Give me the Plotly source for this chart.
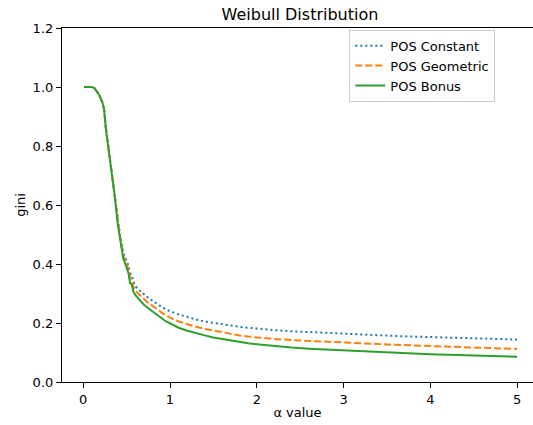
import plotly.graph_objects as go

alpha = [0.01, 0.05, 0.10, 0.13, 0.16, 0.18, 0.20, 0.22, 0.24, 0.25,
         0.26, 0.28, 0.30, 0.32, 0.34, 0.36, 0.38, 0.40, 0.42, 0.44,
         0.46, 0.48, 0.50, 0.52, 0.54, 0.56, 0.58, 0.60, 0.65, 0.70,
         0.75, 0.80, 0.85, 0.90, 0.95, 1.00, 1.1, 1.2, 1.3, 1.4,
         1.5, 1.6, 1.7, 1.8, 1.9, 2.0, 2.2, 2.4, 2.6, 2.8,
         3.0, 3.2, 3.4, 3.6, 3.8, 4.0, 4.2, 4.4, 4.6, 4.8,
         5.0]

pos_constant = [1.000, 1.000, 1.000, 0.996, 0.985, 0.975, 0.962, 0.948, 0.925, 0.882,
                0.862, 0.818, 0.778, 0.738, 0.685, 0.640, 0.588, 0.540, 0.505, 0.470,
                0.440, 0.425, 0.410, 0.395, 0.370, 0.360, 0.340, 0.325, 0.310, 0.297,
                0.285, 0.275, 0.264, 0.255, 0.247, 0.240, 0.229, 0.220, 0.212, 0.205,
                0.200, 0.195, 0.191, 0.187, 0.184, 0.181, 0.176, 0.172, 0.169, 0.167,
                0.163, 0.160, 0.158, 0.156, 0.154, 0.152, 0.150, 0.148, 0.147, 0.145,
                0.144]

pos_geometric = [1.000, 1.000, 1.000, 0.996, 0.985, 0.975, 0.962, 0.948, 0.925, 0.882,
                 0.862, 0.817, 0.777, 0.737, 0.683, 0.638, 0.585, 0.535, 0.500, 0.462,
                 0.428, 0.415, 0.398, 0.385, 0.355, 0.345, 0.322, 0.310, 0.295, 0.280,
                 0.268, 0.258, 0.246, 0.236, 0.226, 0.218, 0.205, 0.195, 0.187, 0.180,
                 0.174, 0.168, 0.163, 0.158, 0.154, 0.151, 0.146, 0.142, 0.139, 0.136,
                 0.133, 0.130, 0.128, 0.126, 0.124, 0.122, 0.120, 0.118, 0.116, 0.114,
                 0.112]

pos_bonus = [1.000, 1.000, 1.000, 0.996, 0.985, 0.975, 0.962, 0.948, 0.925, 0.880,
             0.860, 0.815, 0.775, 0.735, 0.680, 0.635, 0.580, 0.530, 0.495, 0.455,
             0.420, 0.405, 0.385, 0.370, 0.335, 0.330, 0.305, 0.295, 0.278, 0.262,
             0.250, 0.238, 0.226, 0.217, 0.206, 0.198, 0.184, 0.174, 0.165, 0.158,
             0.151, 0.146, 0.140, 0.135, 0.131, 0.128, 0.122, 0.117, 0.113, 0.110,
             0.107, 0.104, 0.101, 0.098, 0.096, 0.094, 0.092, 0.091, 0.089, 0.088,
             0.086]

x_ticks = [0, 1, 2, 3, 4, 5]
y_ticks = [0.0, 0.2, 0.4, 0.6, 0.8, 1.0, 1.2]

FONT = "DejaVu Sans"

fig = go.Figure()
fig.add_trace(go.Scatter(x=alpha, y=pos_constant, mode="lines", name="POS Constant",
                         line=dict(color="#1f77b4", width=2, dash="2px,3px")))
fig.add_trace(go.Scatter(x=alpha, y=pos_geometric, mode="lines", name="POS Geometric",
                         line=dict(color="#ff7f0e", width=2, dash="7px,3px")))
fig.add_trace(go.Scatter(x=alpha, y=pos_bonus, mode="lines", name="POS Bonus",
                         line=dict(color="#2ca02c", width=2)))

fig.update_layout(
    width=533, height=425,
    margin=dict(l=62, r=0, t=28, b=43, autoexpand=False),
    paper_bgcolor="white", plot_bgcolor="white",
    font=dict(family=FONT, size=13, color="black"),
    title=dict(text="Weibull Distribution", x=(300 / 533), xanchor="center",
               y=1 - 19.5 / 425, yanchor="bottom", yref="container",
               font=dict(family=FONT, size=16, color="black")),
    showlegend=True,
    legend=dict(x=0.610, y=0.995, xanchor="left", yanchor="top",
                bgcolor="rgba(255,255,255,0.8)", bordercolor="#cccccc", borderwidth=1,
                font=dict(family=FONT, size=13, color="black"),
                tracegroupgap=0),
    xaxis=dict(range=[-0.245, 5.184], tickvals=x_ticks, ticktext=[str(v) for v in x_ticks],
               showgrid=False, zeroline=False, showline=True, linecolor="black", linewidth=1.2,
               mirror=True, ticks="outside", ticklen=5, tickwidth=1, tickcolor="black",
               tickfont=dict(family=FONT, size=13, color="black"),
               title=dict(text="α value", font=dict(family=FONT, size=13, color="black"), standoff=2)),
    yaxis=dict(range=[0, 1.2], tickvals=y_ticks, ticktext=[f"{v:.1f}" for v in y_ticks],
               showgrid=False, zeroline=False, showline=True, linecolor="black", linewidth=1.2,
               ticks="outside", ticklen=5, tickwidth=1, tickcolor="black",
               tickfont=dict(family=FONT, size=13, color="black"),
               title=dict(text="gini", font=dict(family=FONT, size=13, color="black"), standoff=4)),
)

fig.write_html("out.html")
